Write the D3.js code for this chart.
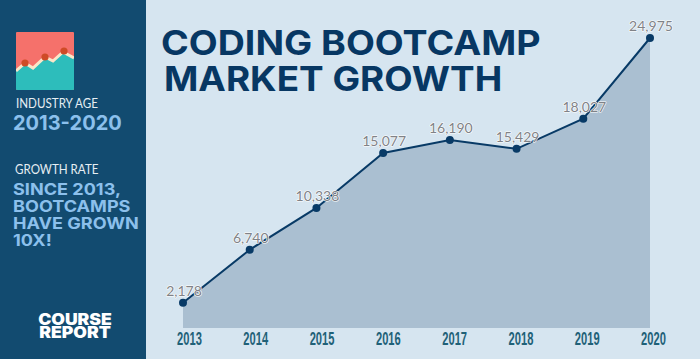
<!DOCTYPE html>
<html lang="en">
<head>
<meta charset="UTF-8" />
<title>Coding bootcamp market growth</title>
<style>
  html, body { margin: 0; padding: 0; background: #d6e5f0; overflow: hidden; }
  svg { display: block; }
</style>
</head>
<body>
<div class="chart"></div>
<script src="https://d3js.org/d3.v7.min.js"></script>
<script>
const years = ['2013', '2014', '2015', '2016', '2017', '2018', '2019', '2020'];
const students = [2178, 6740, 10338, 15077, 16190, 15429, 18027, 24975];
const titleLines = ['CODING BOOTCAMP', 'MARKET GROWTH'];
const growthLines = ['SINCE 2013,', 'BOOTCAMPS', 'HAVE GROWN', '10X!'];
const logoLines = ['COURSE', 'REPORT'];

// icon outline, in icon units 0-58
const iconPoints = [[0, 39], [9, 31], [17, 36], [29, 25], [37, 29], [47, 20], [58, 26]];
const iconDots = [[9, 31], [29, 25], [48, 19]];

const svgWidth = 700, svgHeight = 359;
const svg = d3.select('.chart').append('svg')
  .attr('width', svgWidth)
  .attr('height', svgHeight);

svg.append('rect').attr('width', svgWidth).attr('height', svgHeight).attr('fill', '#d6e5f0');
svg.append('rect').attr('width', 146).attr('height', svgHeight).attr('fill', '#124b70');

// scales
const xScale = d3.scalePoint().domain(years).range([183, 650]);
const yScale = d3.scaleLinear().domain([0, 24975]).range([328, 38]);

// area + line
const area = d3.area()
  .x((d, i) => xScale(years[i]))
  .y0(yScale(0))
  .y1(d => yScale(d));
const line = d3.line()
  .x((d, i) => xScale(years[i]))
  .y(d => yScale(d));

svg.append('path').attr('d', area(students)).attr('fill', '#aabfd1');
svg.append('path').attr('d', line(students))
  .attr('fill', 'none').attr('stroke', '#083a66').attr('stroke-width', 2);

svg.selectAll('circle.point').data(students).join('circle')
  .attr('class', 'point')
  .attr('cx', (d, i) => xScale(years[i]))
  .attr('cy', d => yScale(d))
  .attr('r', 4)
  .attr('fill', '#083a66');

// value labels with white halo
svg.selectAll('text.value').data(students).join('text')
  .attr('class', 'value')
  .attr('x', (d, i) => xScale(years[i]) + 1)
  .attr('y', d => yScale(d) - 7)
  .attr('text-anchor', 'middle')
  .attr('font-family', 'Lato')
  .attr('font-size', 14)
  .attr('fill', '#808287')
  .attr('stroke', '#ffffff')
  .attr('stroke-width', 1.2)
  .attr('stroke-linejoin', 'round')
  .attr('paint-order', 'stroke')
  .text(d => d3.format(',')(d));

// x axis, labels only
const labelScale = d3.scalePoint().domain(years).range([189, 653]);
const xAxis = svg.append('g')
  .attr('transform', 'translate(0,328)')
  .call(d3.axisBottom(labelScale).tickSize(0).tickPadding(0));
xAxis.select('.domain').remove();
xAxis.selectAll('text')
  .attr('y', 17)
  .attr('dy', 0)
  .attr('transform', 'scale(0.62,1)')
  .attr('font-family', "'Liberation Sans'")
  .attr('font-weight', 700)
  .attr('font-size', 18)
  .attr('fill', '#1f6178')
  .attr('text-anchor', 'middle');

// title, Inter stretched a bit to get the wide look
svg.selectAll('text.title').data(titleLines).join('text')
  .attr('class', 'title')
  .attr('transform', (d, i) => i === 0 ? 'translate(161,55) scale(1.105,1)' : 'translate(164,91) scale(1.085,1)')
  .attr('font-family', 'Inter')
  .attr('font-weight', 700)
  .attr('font-size', 34)
  .attr('fill', '#073763')
  .text(d => d);

// sidebar
const icon = svg.append('g').attr('transform', 'translate(16,32)');
const iconClip = svg.append('clipPath').attr('id', 'iconClip');
iconClip.append('rect').attr('width', 58).attr('height', 58).attr('rx', 1);
const iconBody = icon.append('g').attr('clip-path', 'url(#iconClip)');
iconBody.append('rect').attr('width', 58).attr('height', 58).attr('fill', '#f5716b');
const iconArea = d3.area().x(d => d[0]).y0(58).y1(d => d[1]);
const iconLine = d3.line().x(d => d[0]).y(d => d[1]);
iconBody.append('path').attr('d', iconArea(iconPoints)).attr('fill', '#2dbdbb');
iconBody.append('path').attr('d', iconLine(iconPoints))
  .attr('fill', 'none').attr('stroke', '#fbe6c8').attr('stroke-width', 3);
iconBody.selectAll('circle').data(iconDots).join('circle')
  .attr('cx', d => d[0]).attr('cy', d => d[1]).attr('r', 3.6).attr('fill', '#cf4b27');

const sideLabel = (txt, x, y) => svg.append('text')
  .attr('transform', `translate(${x},${y}) scale(0.93,1)`)
  .attr('font-family', 'Lato')
  .attr('font-size', 12.5)
  .attr('fill', '#e6eef3')
  .text(txt);
sideLabel('INDUSTRY AGE', 16, 108);
sideLabel('GROWTH RATE', 15, 174);

svg.append('text')
  .attr('x', 13).attr('y', 130)
  .attr('font-family', 'Inter')
  .attr('font-weight', 700)
  .attr('font-size', 20)
  .attr('fill', '#8cc0ec')
  .text('2013-2020');

svg.selectAll('text.growth').data(growthLines).join('text')
  .attr('class', 'growth')
  .attr('transform', (d, i) => `translate(13,${195 + i * 17}) scale(1.13,1)`)
  .attr('font-family', 'Inter')
  .attr('font-weight', 700)
  .attr('font-size', 16)
  .attr('fill', '#8cc0ec')
  .text(d => d);

svg.selectAll('text.logo').data(logoLines).join('text')
  .attr('class', 'logo')
  .attr('transform', (d, i) => `translate(75,${325 + i * 13}) scale(1.1,1)`)
  .attr('text-anchor', 'middle')
  .attr('font-family', 'Inter')
  .attr('font-weight', 900)
  .attr('font-size', 16)
  .attr('fill', '#ffffff')
  .text(d => d);
</script>
</body>
</html>
